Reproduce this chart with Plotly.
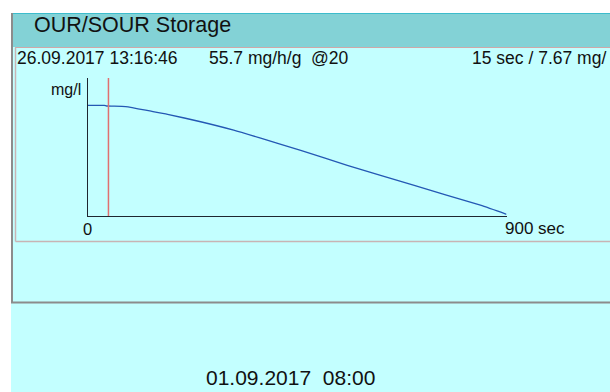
import plotly.graph_objects as go

# Oxygen decay during the OUR/SOUR storage test
time_sec = [0, 36, 41, 82, 134, 172, 243, 314, 372, 458, 558, 700, 844, 900]
oxygen_mgl = [8.02, 8.01, 7.97, 7.93, 7.61, 7.37, 6.83, 6.22, 5.64, 4.75, 3.67, 2.23, 0.78, 0.12]

cursor_sec = 45
x_max = 900
y_max = 10

title_text = "OUR/SOUR Storage"
stamp_text = "26.09.2017 13:16:46"
rate_text = "55.7 mg/h/g"
temp_text = "@20"
interval_text = "15 sec / 7.67 mg/"
unit_text = "mg/l"
x_start_label = "0"
x_end_label = "900 sec"
footer_text = "01.09.2017  08:00"

W, H = 610, 392
CYAN = "#C3FFFF"
TEAL = "#83D2D6"
FONT = "Liberation Sans, Arial, sans-serif"


def fx(p):
    return p / W


def fy(p):
    return 1 - p / H


fig = go.Figure()
fig.add_trace(go.Scatter(
    x=time_sec, y=oxygen_mgl, mode="lines",
    line=dict(color="#2458B4", width=1.3, shape="spline", smoothing=0.5),
    hoverinfo="skip", showlegend=False,
))

shapes = [
    # whole window background
    dict(type="rect", xref="paper", yref="paper", x0=fx(11), x1=fx(W), y0=0, y1=fy(13),
         fillcolor=CYAN, line=dict(width=0), layer="below"),
    # title band
    dict(type="rect", xref="paper", yref="paper", x0=fx(12), x1=fx(W), y0=fy(47), y1=fy(13),
         fillcolor=TEAL, line=dict(width=0), layer="below"),
    dict(type="line", xref="paper", yref="paper", x0=fx(12), x1=fx(W), y0=fy(13.5), y1=fy(13.5),
         line=dict(color="#3CBCCC", width=1), layer="below"),
    dict(type="line", xref="paper", yref="paper", x0=fx(15), x1=fx(W), y0=fy(47.5), y1=fy(47.5),
         line=dict(color="#D0A8A8", width=1), layer="below"),
    # inner chart panel border
    dict(type="line", xref="paper", yref="paper", x0=fx(15.5), x1=fx(15.5), y0=fy(241.5), y1=fy(47.5),
         line=dict(color="#C8B4B4", width=1.5), layer="below"),
    dict(type="line", xref="paper", yref="paper", x0=fx(15.5), x1=fx(W), y0=fy(241.5), y1=fy(241.5),
         line=dict(color="#C8B4B4", width=1.5), layer="below"),
    # outer frame
    dict(type="line", xref="paper", yref="paper", x0=fx(12), x1=fx(12), y0=fy(303), y1=fy(13),
         line=dict(color="#8C8C8C", width=2), layer="below"),
    dict(type="line", xref="paper", yref="paper", x0=fx(11), x1=fx(W), y0=fy(302.5), y1=fy(302.5),
         line=dict(color="#8C8C8C", width=2), layer="below"),
    # cursor marker
    dict(type="line", xref="x", yref="y", x0=cursor_sec, x1=cursor_sec, y0=0, y1=y_max,
         line=dict(color="#E07070", width=1.5)),
]

ann = []


def label(text, x, y, size, anchor="left"):
    ann.append(dict(text=text, xref="paper", yref="paper", x=fx(x), y=fy(y),
                    xanchor=anchor, yanchor="middle", showarrow=False,
                    font=dict(family=FONT, size=size, color="#111111")))


label(title_text, 32, 25, 21.5)
label(stamp_text, 15, 58, 17.5)
label(rate_text, 207, 58, 17.5)
label(temp_text, 309, 58, 17.5)
label(interval_text, 608, 58, 17.5, anchor="right")
label(unit_text, 83, 89, 16, anchor="right")
label(x_start_label, 87.5, 229, 16.5, anchor="center")
label(x_end_label, 503, 229, 17)
label(footer_text, 290, 377, 21, anchor="center")

fig.update_layout(
    width=W, height=H,
    margin=dict(l=0, r=0, t=0, b=0),
    paper_bgcolor="white", plot_bgcolor="rgba(0,0,0,0)",
    shapes=shapes, annotations=ann,
    xaxis=dict(domain=[fx(87.5), fx(506.5)], range=[0, x_max], showgrid=False, zeroline=False,
               showticklabels=False, ticks="", showline=True, linecolor="#1E2630", linewidth=1),
    yaxis=dict(domain=[fy(216), fy(78)], range=[0, y_max], showgrid=False, zeroline=False,
               showticklabels=False, ticks="", showline=True, linecolor="#1E2630", linewidth=1),
)

fig.write_html("out.html", config=dict(displayModeBar=False))
